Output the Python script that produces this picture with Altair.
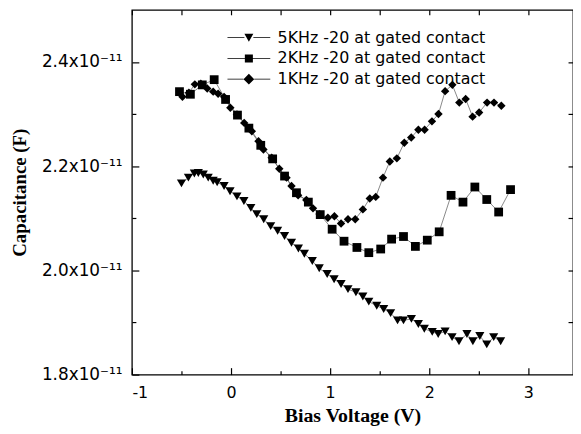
import altair as alt
import pandas as pd

# ---- data (capacitance in units of 1e-11 F) ----
series_names = ["5KHz -20 at gated contact", "2KHz -20 at gated contact", "1KHz -20 at gated contact"]

v5 = [-0.50, -0.43, -0.37, -0.33, -0.28, -0.23, -0.18, -0.14, -0.07, -0.01,
      0.06, 0.13, 0.20, 0.26, 0.33, 0.40, 0.47, 0.54, 0.61, 0.68,
      0.74, 0.82, 0.89, 0.97, 1.04, 1.11, 1.18, 1.26, 1.33, 1.39,
      1.47, 1.54, 1.61, 1.68, 1.74, 1.82, 1.89, 1.95, 2.03, 2.09,
      2.16, 2.23, 2.30, 2.38, 2.44, 2.51, 2.58, 2.65, 2.72]
c5 = [2.167, 2.178, 2.186, 2.187, 2.184, 2.178, 2.172, 2.169, 2.162, 2.152,
      2.142, 2.133, 2.120, 2.108, 2.098, 2.085, 2.076, 2.066, 2.053, 2.042,
      2.032, 2.018, 2.004, 1.993, 1.983, 1.974, 1.964, 1.958, 1.950, 1.940,
      1.932, 1.926, 1.918, 1.904, 1.904, 1.907, 1.897, 1.888, 1.882, 1.878,
      1.883, 1.872, 1.864, 1.878, 1.864, 1.874, 1.858, 1.872, 1.864]

v2 = [-0.52, -0.41, -0.29, -0.17, -0.055, 0.065, 0.18, 0.30, 0.42, 0.54,
      0.66, 0.78, 0.90, 1.02, 1.14, 1.27, 1.39, 1.51, 1.62, 1.74,
      1.86, 1.98, 2.10, 2.22, 2.34, 2.46, 2.58, 2.70, 2.82]
c2 = [2.343, 2.338, 2.356, 2.366, 2.328, 2.298, 2.273, 2.240, 2.214, 2.181,
      2.149, 2.131, 2.107, 2.079, 2.056, 2.044, 2.034, 2.041, 2.060, 2.065,
      2.046, 2.058, 2.074, 2.144, 2.131, 2.160, 2.136, 2.112, 2.155]

v1 = [-0.49, -0.425, -0.365, -0.305, -0.24, -0.18, -0.13, -0.07, -0.007, 0.06,
      0.133, 0.21, 0.277, 0.327, 0.41, 0.487, 0.56, 0.61, 0.677, 0.76,
      0.827, 0.893, 0.977, 1.043, 1.11, 1.18, 1.253, 1.33, 1.40, 1.46,
      1.533, 1.602, 1.673, 1.748, 1.818, 1.89, 1.953, 2.027, 2.093, 2.16,
      2.233, 2.303, 2.367, 2.437, 2.503, 2.583, 2.653, 2.727]
c1 = [2.333, 2.341, 2.357, 2.358, 2.349, 2.343, 2.339, 2.333, 2.312, 2.299,
      2.283, 2.267, 2.248, 2.232, 2.216, 2.195, 2.178, 2.162, 2.144, 2.135,
      2.119, 2.108, 2.101, 2.104, 2.090, 2.098, 2.098, 2.117, 2.138, 2.141,
      2.178, 2.209, 2.215, 2.245, 2.255, 2.270, 2.270, 2.286, 2.300, 2.344,
      2.356, 2.322, 2.329, 2.295, 2.303, 2.322, 2.322, 2.316]

x_major = [-1, 0, 1, 2, 3]
x_minor = [-0.5, 0.5, 1.5, 2.5]
x_top = [-1, -0.5, 0, 0.5, 1, 1.5, 2, 2.5, 3]
y_major = [1.8e-11, 2.0e-11, 2.2e-11, 2.4e-11]
y_minor = [1.9e-11, 2.1e-11, 2.3e-11]
y_right = [1.9e-11, 2.0e-11, 2.1e-11, 2.2e-11, 2.3e-11, 2.4e-11]

rows = []
for name, vs, cs in zip(series_names, [v5, v2, v1], [c5, c2, c1]):
    for v, c in zip(vs, cs):
        rows.append({"series": name, "v": v, "c": c * 1e-11})
df = pd.DataFrame(rows)

xs = alt.Scale(domain=[-1, 3.45], nice=False, zero=False)
ys = alt.Scale(domain=[1.8e-11, 2.5e-11], nice=False, zero=False)

LBL = "DejaVu Sans"
TTL = "Liberation Serif"

ax_bottom = alt.Axis(orient="bottom", values=x_major, offset=-7, tickSize=7, tickWidth=1.2,
                     tickColor="black", domain=False, grid=False,
                     labelExpr="toString(datum.value)", labelFont=LBL, labelFontSize=16,
                     labelColor="black", labelPadding=10,
                     title="Bias Voltage (V)", titleFont=TTL, titleFontSize=20,
                     titleFontWeight="bold", titleColor="black", titlePadding=5)
ax_left = alt.Axis(orient="left", values=y_major, offset=-7, tickSize=7, tickWidth=1.2,
                   tickColor="black", domain=False, grid=False,
                   labelExpr="format(datum.value*1e11, '.1f') + 'x10⁻¹¹'",
                   labelFont=LBL, labelFontSize=17, labelColor="black", labelPadding=10,
                   title="Capacitance (F)", titleFont=TTL, titleFontSize=19,
                   titleFontWeight="bold", titleColor="black", titlePadding=12)
ax_bottom_minor = alt.Axis(orient="bottom", values=x_minor, offset=-4, tickSize=4, tickWidth=1.2,
                           tickColor="black", domain=False, grid=False, labels=False, title=None)
ax_left_minor = alt.Axis(orient="left", values=y_minor, offset=-4, tickSize=4, tickWidth=1.2,
                         tickColor="black", domain=False, grid=False, labels=False, title=None)
ax_top = alt.Axis(orient="top", values=x_top, offset=-5, tickSize=5, tickWidth=1.2,
                  tickColor="black", domain=False, grid=False, labels=False, title=None)
ax_right = alt.Axis(orient="right", values=y_right, offset=-5, tickSize=5, tickWidth=1.2,
                    tickColor="black", domain=False, grid=False, labels=False, title=None)

lines = alt.Chart(df).mark_line(color="#555555", strokeWidth=0.7).encode(
    x=alt.X("v:Q", scale=xs, axis=ax_bottom),
    y=alt.Y("c:Q", scale=ys, axis=ax_left),
    detail="series:N",
)

points = alt.Chart(df).mark_point(filled=True, color="black", opacity=1).encode(
    x=alt.X("v:Q", scale=xs, axis=ax_bottom_minor),
    y=alt.Y("c:Q", scale=ys, axis=ax_left_minor),
    shape=alt.Shape("series:N", scale=alt.Scale(domain=series_names,
                                                range=["triangle-down", "square", "diamond"]),
                    legend=None),
    size=alt.Size("series:N", scale=alt.Scale(domain=series_names, range=[85, 72, 125]),
                  legend=None),
)

# legend glyphs: short line segment (thin filled bars) with the marker in the middle
legend_paths = [
    "M-4.8,-0.09H-1V0.09H-4.8ZM1,-0.09H4.8V0.09H1ZM-1,-0.85L1,-0.85L0,0.95Z",
    "M-4.8,-0.09H-0.9V0.09H-4.8ZM0.9,-0.09H4.8V0.09H0.9ZM-0.9,-0.9H0.9V0.9H-0.9Z",
    "M-4.8,-0.09H-1.2V0.09H-4.8ZM1.2,-0.09H4.8V0.09H1.2ZM0,-1.2L1.2,0L0,1.2L-1.2,0Z",
]

legend_layer = alt.Chart(df).transform_filter("false").mark_point(
    filled=True, fill="black", opacity=1
).encode(
    x=alt.X("v:Q", scale=xs, axis=ax_top),
    y=alt.Y("c:Q", scale=ys, axis=ax_right),
    shape=alt.Shape("series:N", scale=alt.Scale(domain=series_names, range=legend_paths),
                    legend=alt.Legend(orient="none", legendX=110, legendY=20, title=None,
                                      labelFont=LBL, labelFontSize=16, labelColor="black",
                                      labelLimit=400, symbolSize=81, labelOffset=21,
                                      rowPadding=5, padding=0, symbolStrokeWidth=0,
                                      symbolFillColor="black", symbolOpacity=1)),
)

chart = alt.layer(lines, points, legend_layer).resolve_scale(
    shape="independent", size="independent"
).resolve_axis(x="independent", y="independent").properties(
    width=445, height=368,
    autosize=alt.AutoSizeParams(type="none"),
    padding={"left": 125, "top": 0, "right": 0, "bottom": 50},
    background="white",
).configure_view(stroke="black", strokeWidth=1.3)

chart.save("out.html", embed_options={"renderer": "svg", "actions": False})
